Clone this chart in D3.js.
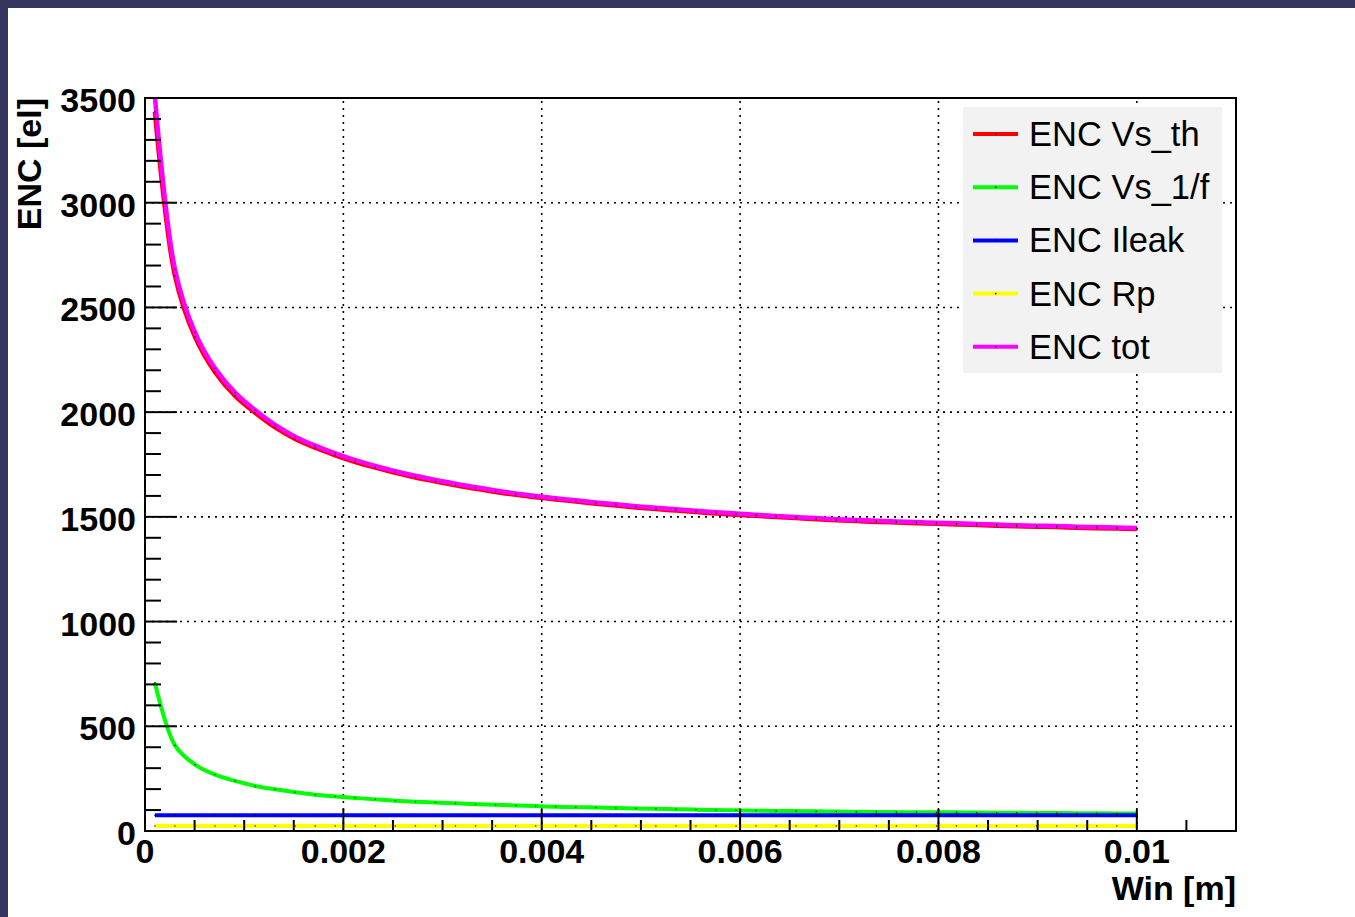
<!DOCTYPE html>
<html>
<head>
<meta charset="utf-8">
<script src="https://cdn.jsdelivr.net/npm/d3@7"></script>
<style>
html, body { margin: 0; padding: 0; background: #ffffff; }
svg { display: block; }
text { font-family: "Liberation Sans", Arial, Helvetica, sans-serif; }
</style>
</head>
<body>
<svg id="chart" width="1355" height="917"></svg>
<script>
// ---------------- data ----------------
const xValues = [
  0.0001, 0.000302, 0.000504, 0.000706, 0.000908, 0.00111, 0.001312, 0.001514, 0.001716, 0.001918,
  0.00212, 0.002322, 0.002524, 0.002727, 0.002929, 0.003131, 0.003333, 0.003535, 0.003737, 0.003939,
  0.004141, 0.004343, 0.004545, 0.004747, 0.004949, 0.005151, 0.005353, 0.005555, 0.005757, 0.005959,
  0.006161, 0.006363, 0.006565, 0.006767, 0.00697, 0.007172, 0.007374, 0.007576, 0.007778, 0.00798,
  0.008182, 0.008384, 0.008586, 0.008788, 0.00899, 0.009192, 0.009394, 0.009596, 0.009798, 0.01
];
const encVsTh = [
  3434, 2651, 2359, 2191, 2078, 1997, 1927, 1872, 1830, 1794,
  1762, 1735, 1710, 1688, 1669, 1651, 1634, 1619, 1605, 1594,
  1583, 1573, 1563, 1554, 1545, 1537, 1530, 1523, 1516, 1510,
  1505, 1499, 1494, 1489, 1484, 1480, 1476, 1473, 1470, 1467,
  1464, 1461, 1458, 1455, 1453, 1451, 1448, 1446, 1444, 1442
];
const encVs1f = [
  708, 409, 317, 269, 239, 215, 199, 185, 173, 165,
  158, 151, 145, 140, 136, 132, 128, 125, 122, 119,
  116, 114, 112, 110, 108, 106, 104, 102, 100, 99,
  97, 96, 95, 94, 93, 92, 91, 90, 90, 89,
  89, 88, 87, 87, 86, 86, 85, 85, 84, 84
];
const encIleak = [
  75, 75, 75, 75, 75, 75, 75, 75, 75, 75,
  75, 75, 75, 75, 75, 75, 75, 75, 75, 75,
  75, 75, 75, 75, 75, 75, 75, 75, 75, 75,
  75, 75, 75, 75, 75, 75, 75, 75, 75, 75,
  75, 75, 75, 75, 75, 75, 75, 75, 75, 75
];
const encRp = [
  24, 24, 24, 24, 24, 24, 24, 24, 24, 24,
  24, 24, 24, 24, 24, 24, 24, 24, 24, 24,
  24, 24, 24, 24, 24, 24, 24, 24, 24, 24,
  24, 24, 24, 24, 24, 24, 24, 24, 24, 24,
  24, 24, 24, 24, 24, 24, 24, 24, 24, 24
];
const encTot = [
  3507, 2683, 2381, 2209, 2093, 2010, 1939, 1883, 1840, 1803,
  1771, 1743, 1718, 1696, 1676, 1658, 1641, 1626, 1612, 1600,
  1589, 1579, 1569, 1560, 1551, 1543, 1536, 1529, 1522, 1516,
  1510, 1504, 1499, 1494, 1489, 1485, 1481, 1478, 1475, 1472,
  1469, 1466, 1463, 1460, 1458, 1456, 1453, 1451, 1449, 1447
];
const seriesNames = ["ENC Vs_th", "ENC Vs_1/f", "ENC Ileak", "ENC Rp", "ENC tot"];
const seriesColors = ["#ff0000", "#00ff00", "#0000ff", "#ffff00", "#ff00ff"];
const xTickValues = [0, 0.002, 0.004, 0.006, 0.008, 0.01];
const xTickLabels = ["0", "0.002", "0.004", "0.006", "0.008", "0.01"];
const yTickValues = [0, 500, 1000, 1500, 2000, 2500, 3000, 3500];
const yTickLabels = ["0", "500", "1000", "1500", "2000", "2500", "3000", "3500"];
const xTitle = "Win [m]";
const yTitle = "ENC [el]";

// ---------------- layout ----------------
const svg = d3.select("#chart");
const L = 145, R = 1236, T = 98, B = 831;
const x = d3.scaleLinear().domain([0, 0.011]).range([L, R]);
const y = d3.scaleLinear().domain([0, 3500]).range([B, T]);
const borderColor = "#35355f";

// canvas border (top / left)
svg.append("rect").attr("x", 0).attr("y", 0).attr("width", 1355).attr("height", 8).attr("fill", borderColor);
svg.append("rect").attr("x", 0).attr("y", 0).attr("width", 8).attr("height", 917).attr("fill", borderColor);

// clip
svg.append("defs").append("clipPath").attr("id", "plotclip")
  .append("rect").attr("x", L).attr("y", T).attr("width", R - L).attr("height", B - T);

// grid
const grid = svg.append("g").attr("stroke", "#000").attr("stroke-width", 1.6)
  .attr("stroke-dasharray", "2,5");
xTickValues.filter(v => v > 0).forEach(v => {
  grid.append("line").attr("x1", x(v)).attr("x2", x(v)).attr("y1", B).attr("y2", T);
});
yTickValues.filter(v => v > 0 && v < 3500).forEach(v => {
  grid.append("line").attr("x1", L).attr("x2", R).attr("y1", y(v)).attr("y2", y(v));
});

// series
const allSeries = [encVsTh, encVs1f, encIleak, encRp, encTot];
const widths = [4.5, 4, 4, 4, 4.5];
const plot = svg.append("g").attr("clip-path", "url(#plotclip)");
const line = d3.line().x(d => x(d[0])).y(d => y(d[1])).curve(d3.curveCatmullRom.alpha(0.5));
allSeries.forEach((vals, i) => {
  const pts = xValues.map((xv, k) => [xv, vals[k]]);
  plot.append("path").datum(pts)
    .attr("fill", "none").attr("stroke", seriesColors[i])
    .attr("stroke-width", widths[i]).attr("stroke-linejoin", "round")
    .attr("d", line);
});
// tiny point markers
allSeries.forEach((vals, i) => {
  plot.append("g").selectAll("rect").data(xValues.map((xv, k) => [xv, vals[k]]))
    .join("rect")
    .attr("x", d => x(d[0]) - 0.6).attr("y", d => y(d[1]) - 0.6)
    .attr("width", 1.2).attr("height", 1.2).attr("fill", "#000");
});

// axes ticks
const axes = svg.append("g").attr("stroke", "#000").attr("stroke-width", 2);
d3.range(0, 3501, 100).forEach(v => {
  const major = v % 500 === 0;
  axes.append("line").attr("x1", L).attr("x2", L + (major ? 32 : 16))
    .attr("y1", y(v)).attr("y2", y(v));
});
d3.range(0, 23).map(i => i * 0.0005).forEach((v, i) => {
  const major = i % 4 === 0;
  axes.append("line").attr("x1", x(v)).attr("x2", x(v))
    .attr("y1", B).attr("y2", B - (major ? 22 : 11));
});

// frame
svg.append("rect").attr("x", L).attr("y", T).attr("width", R - L).attr("height", B - T)
  .attr("fill", "none").attr("stroke", "#000").attr("stroke-width", 2);

// tick labels
svg.append("g").selectAll("text").data(xTickValues).join("text")
  .attr("x", d => x(d)).attr("y", 863)
  .attr("text-anchor", "middle").attr("font-size", 34).attr("font-weight", "bold")
  .text((d, i) => xTickLabels[i]);
svg.append("g").selectAll("text").data(yTickValues).join("text")
  .attr("x", 136).attr("y", d => y(d) + 14)
  .attr("text-anchor", "end").attr("font-size", 34).attr("font-weight", "bold")
  .text((d, i) => yTickLabels[i]);

// axis titles
svg.append("text").attr("x", 1236).attr("y", 900)
  .attr("text-anchor", "end").attr("font-size", 34).attr("font-weight", "bold")
  .text(xTitle);
svg.append("text").attr("transform", "translate(41,98) rotate(-90)")
  .attr("text-anchor", "end").attr("font-size", 34).attr("font-weight", "bold")
  .text(yTitle);

// legend
const lg = svg.append("g");
lg.append("rect").attr("x", 963).attr("y", 107).attr("width", 259).attr("height", 266)
  .attr("fill", "#f2f2f2");
seriesNames.forEach((name, i) => {
  const ly = 134 + i * 53.2;
  lg.append("line").attr("x1", 973).attr("x2", 1018).attr("y1", ly).attr("y2", ly)
    .attr("stroke", seriesColors[i]).attr("stroke-width", 4);
  lg.append("rect").attr("x", 995).attr("y", ly - 0.75).attr("width", 1.5).attr("height", 1.5).attr("fill", "#000");
  lg.append("text").attr("x", 1029).attr("y", ly + 12)
    .attr("font-size", 34.5).attr("fill", "#000").text(name);
});
</script>
</body>
</html>
